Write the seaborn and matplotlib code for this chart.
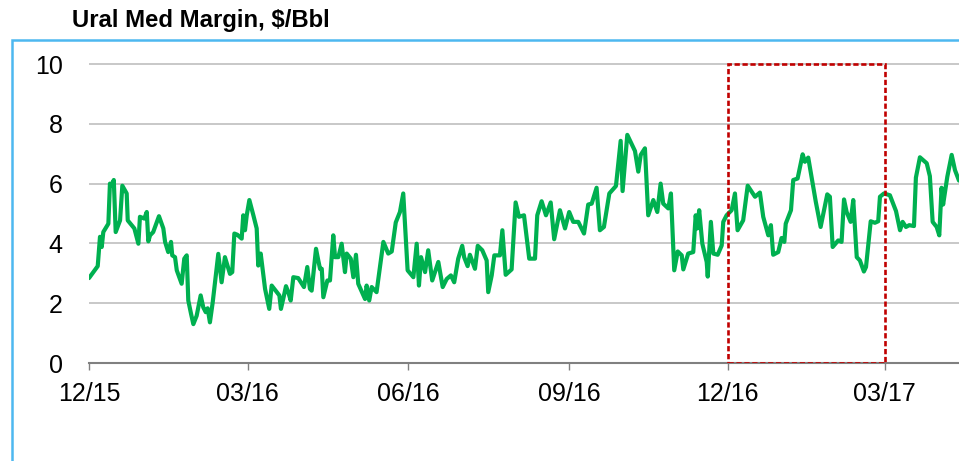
import pandas as pd
import seaborn as sns
import matplotlib.pyplot as plt
import matplotlib.dates as mdates
from matplotlib.patches import Rectangle

title = 'Ural Med Margin, $/Bbl'
start_date = '2015-12-01'
highlight_start = '2016-12-01'
highlight_end = '2017-03-01'
y_ticks = [0, 2, 4, 6, 8, 10]

# days since start_date, with the margin in $/Bbl
days_a = [0, 5.0, 6.3, 7.3, 8.2, 11.1, 12.0, 13.0, 14.2, 15.3,
          17.8, 19.1, 21.6, 22.2, 26.0, 28.3, 29.2, 31.7, 33.1, 34.0,
          35.0, 36.8, 40.1, 42.6, 43.6, 45.4, 47.0, 47.7, 49.3, 50.3,
          53.1, 54.6, 56.0, 56.9, 58.5, 59.8, 61.7, 64.0, 65.5, 66.9,
          68.0, 69.3, 70.9, 74.1, 76.0, 77.9, 80.8, 82.1, 83.3]
margin_a = [2.84, 3.24, 4.22, 3.88, 4.38, 4.66, 6.00, 5.95, 6.12, 4.38,
            4.77, 5.93, 5.67, 4.77, 4.50, 3.99, 4.89, 4.83, 5.05, 4.07,
            4.27, 4.38, 4.91, 4.50, 4.05, 3.71, 4.05, 3.60, 3.54, 3.10,
            2.65, 3.49, 3.60, 2.09, 1.64, 1.30, 1.58, 2.26, 1.86, 1.70,
            1.83, 1.36, 2.03, 3.65, 2.70, 3.54, 2.98, 3.04, 4.33]

days_b = [85.0, 87.5, 88.4, 89.4, 90.4, 91.9, 94.2, 96.1, 97.0, 98.4,
          100.9, 103.3, 104.7, 107.6, 109.1, 110.0, 111.3, 112.9, 114.2, 115.6,
          117.1, 119.9, 123.2, 125.1, 126.6, 127.6, 130.1, 131.4, 132.4, 133.4,
          134.3, 136.6, 138.1, 140.0, 141.0, 142.9, 144.8, 146.7, 147.7, 150.0,
          151.5, 153.0, 154.3, 158.2, 159.1, 160.6, 162.0, 164.8]
margin_b = [4.29, 4.16, 4.94, 4.44, 4.94, 5.45, 4.94, 4.50, 3.26, 3.66,
            2.48, 1.81, 2.59, 2.37, 2.26, 1.81, 2.14, 2.57, 2.37, 2.09,
            2.87, 2.84, 2.54, 3.21, 2.48, 2.42, 3.82, 3.43, 3.15, 3.15,
            2.20, 2.76, 2.76, 4.27, 3.54, 3.54, 3.99, 3.04, 3.66, 3.49,
            2.87, 3.62, 2.65, 2.14, 2.59, 2.09, 2.54, 2.37]

days_c = [168.7, 171.5, 173.5, 175.8, 178.2, 180.1, 182.6, 185.9, 187.8, 189.1,
          190.3, 192.6, 194.4, 196.7, 200.2, 202.7, 205.0, 207.4, 209.3, 211.6,
          213.9, 215.0, 217.0, 218.3, 221.2, 222.8, 225.4, 227.9, 228.8, 230.8,
          232.3, 235.5, 236.9, 238.8, 242.2, 244.5, 246.4]
margin_c = [4.05, 3.66, 3.73, 4.70, 5.05, 5.67, 3.10, 2.87, 3.99, 2.59,
            3.54, 3.04, 3.77, 2.76, 3.38, 2.54, 2.81, 2.93, 2.70, 3.49,
            3.92, 3.54, 3.24, 3.62, 3.15, 3.92, 3.77, 3.43, 2.37, 2.93,
            3.60, 3.60, 4.44, 2.95, 3.13, 5.37, 4.89]

days_d = [249.3, 252.3, 255.6, 256.9, 259.4, 261.9, 264.6, 266.6, 269.9, 272.8,
          275.2, 277.5, 280.4, 283.7, 286.1, 288.1, 290.9, 292.8, 295.1, 298.2,
          302.0, 304.7, 305.8, 308.5, 312.9, 314.8, 316.2, 318.6, 320.5, 323.4,
          325.7, 327.6, 329.1, 332.0]
margin_d = [4.94, 3.49, 3.49, 4.94, 5.41, 4.94, 5.37, 4.14, 5.11, 4.50,
            5.05, 4.72, 4.72, 4.33, 5.30, 5.33, 5.86, 4.44, 4.55, 5.67,
            5.92, 7.43, 5.75, 7.63, 7.09, 6.40, 6.96, 7.18, 4.94, 5.45,
            5.05, 6.00, 5.33, 5.17]

days_e = [333.5, 335.4, 337.4, 339.7, 340.6, 343.4, 346.3, 347.7, 348.6, 349.7,
          351.5, 354.0, 354.6, 356.4, 357.8, 360.3, 362.6, 363.5, 365.4, 368.3,
          370.2, 371.7, 374.9, 377.5, 381.7, 384.5, 386.4, 389.3, 390.8, 392.1,
          395.0, 396.9, 398.5, 399.3, 402.3, 403.6, 406.1, 409.0, 410.3, 412.2,
          416.5]
margin_e = [5.67, 3.10, 3.73, 3.60, 3.13, 3.66, 3.71, 4.94, 4.50, 5.11,
            3.99, 3.38, 2.89, 4.72, 3.66, 3.62, 3.93, 4.72, 4.94, 5.11,
            5.67, 4.44, 4.77, 5.93, 5.56, 5.70, 4.89, 4.27, 4.61, 3.62,
            3.71, 4.18, 4.05, 4.66, 5.11, 6.12, 6.17, 6.98, 6.73, 6.87,
            5.40]

days_f = [419.3, 423.1, 424.6, 426.2, 429.4, 431.3, 432.7, 434.2, 436.5, 438.0,
          440.0, 441.8, 444.1, 445.3, 448.0, 450.4, 452.3, 453.3, 455.6, 459.0,
          462.5, 464.8, 466.3, 468.2, 470.1, 472.8, 473.9, 476.2, 480.1, 481.9,
          483.5, 485.8, 487.3, 488.6, 489.5, 491.9, 494.4, 496.3, 498.6]
margin_f = [4.55, 5.64, 5.56, 3.88, 4.10, 4.05, 5.47, 5.05, 4.72, 5.45,
            3.54, 3.43, 3.06, 3.21, 4.74, 4.69, 4.74, 5.56, 5.67, 5.61,
            5.08, 4.44, 4.72, 4.55, 4.61, 4.58, 6.20, 6.88, 6.68, 6.25,
            4.72, 4.55, 4.27, 5.86, 5.30, 6.23, 6.96, 6.45, 6.10]


def main():
    sns.set_style('white')
    plt.rcParams['font.family'] = ['Liberation Sans', 'DejaVu Sans']
    plt.rcParams['text.color'] = 'black'

    days = days_a + days_b + days_c + days_d + days_e + days_f
    margin = margin_a + margin_b + margin_c + margin_d + margin_e + margin_f
    df = pd.DataFrame({
        'date': pd.to_datetime(start_date) + pd.to_timedelta(days, unit='D'),
        'margin': margin,
    })

    fig = plt.figure(figsize=(9.59, 4.61), dpi=100)
    ax = fig.add_axes([89 / 959, 1 - 363 / 461, 1 - 89 / 959, 301 / 461])

    sns.lineplot(data=df, x='date', y='margin', ax=ax, color='#00B050',
                 linewidth=3.0, estimator=None, sort=False)
    for line in ax.lines:
        line.set_solid_joinstyle('round')
        line.set_solid_capstyle('round')

    ax.set_xlim(pd.Timestamp(start_date), df['date'].max())
    ax.set_ylim(0, 10.067)
    ax.set_yticks(y_ticks)
    ax.yaxis.grid(True, color='#BFBFBF', linewidth=1.2)
    ax.xaxis.grid(False)
    ax.set_axisbelow(True)
    for side in ['left', 'top', 'right']:
        ax.spines[side].set_visible(False)
    ax.spines['bottom'].set_color('#808080')
    ax.spines['bottom'].set_linewidth(1.5)

    ax.xaxis.set_major_locator(mdates.MonthLocator(bymonth=[3, 6, 9, 12]))
    ax.xaxis.set_major_formatter(mdates.DateFormatter('%m/%y'))
    ax.tick_params(axis='x', length=5, width=1, color='#808080', pad=9,
                   labelsize=18, labelcolor='black', bottom=True)
    ax.tick_params(axis='y', length=0, pad=19, labelsize=18,
                   labelcolor='black')
    ax.set_xlabel('')
    ax.set_ylabel('')

    # dashed box round the winter period
    x0 = mdates.date2num(pd.Timestamp(highlight_start))
    x1 = mdates.date2num(pd.Timestamp(highlight_end))
    ax.add_patch(Rectangle((x0, 0), x1 - x0, 10, fill=False,
                           edgecolor='#C00000', linewidth=1.9,
                           linestyle=(0, (2.0, 1.0)), zorder=3))

    fig.text(72 / 959, 1 - 21 / 461, title, fontsize=17.2,
             fontweight='bold', va='center', color='black')
    fig.add_artist(Rectangle((12 / 959, -0.05), 1.0, 1 - 40 / 461 + 0.05,
                             transform=fig.transFigure, fill=False,
                             edgecolor='#4DB8F0', linewidth=1.8))

    fig.savefig('out.png', dpi=100)


if __name__ == "__main__":
    main()
